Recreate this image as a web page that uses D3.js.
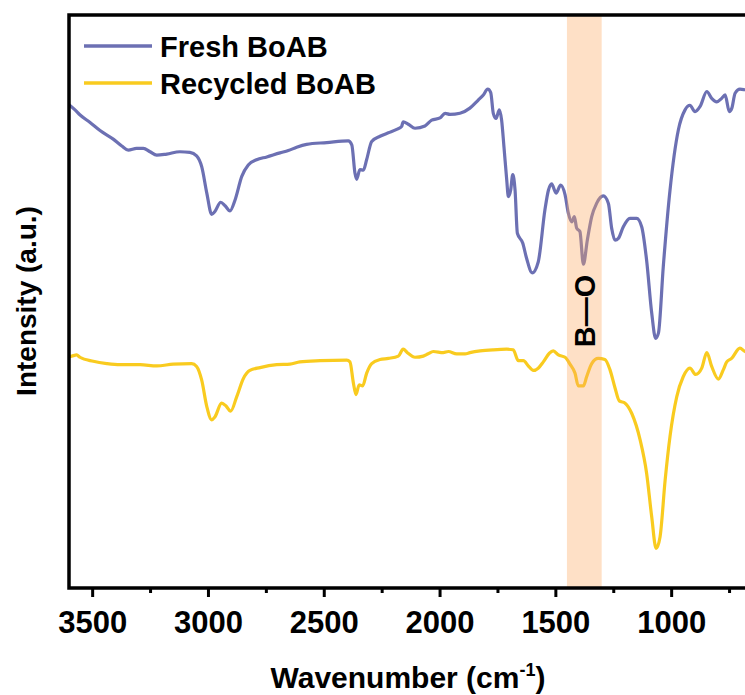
<!DOCTYPE html>
<html>
<head>
<meta charset="utf-8">
<script src="https://cdn.jsdelivr.net/npm/d3@7"></script>
<style>
  html, body { margin: 0; padding: 0; background: #fff; }
  svg { display: block; font-family: "Liberation Sans", Arial, sans-serif; }
</style>
</head>
<body>
<svg id="chart" width="745" height="695"></svg>
<script>
// FTIR spectra (wavenumber in cm^-1, intensity in arbitrary units, offset traces)
const freshWn = [3600,3574,3552,3509,3466,3409,3372,3344,3308,3279,3250,3221,3178,3121,3078,3049,3027,3005,2984,2970,2945,2926,2905,2883,2854,2826,2790,2746,2689,2653,2617,2574,2487,2394,2379,2365,2358,2344,2329,2315,2293,2257,2221,2185,2164,2157,2135,2106,2063,2034,1998,1976,1955,1912,1869,1833,1811,1792,1779,1768,1756,1742,1732,1722,1710,1703,1693,1684,1674,1664,1641,1624,1600,1574,1545,1530,1516,1497,1477,1458,1444,1429,1418,1408,1394,1379,1362,1343,1322,1293,1271,1257,1242,1228,1207,1178,1149,1127,1106,1084,1067,1055,1034,1005,969,940,919,897,875,846,825,803,782,767,749,738,724,703,681,650];
const freshInt = [84.2,83.3,82.4,81.1,79.7,78.2,77.0,76.3,76.6,76.6,76.0,75.4,75.6,76.0,75.9,75.3,73.4,68.8,65.1,65.6,67.2,66.6,65.7,67.6,71.7,73.7,74.6,75.1,75.8,76.2,76.8,77.3,77.6,77.9,77.2,72.2,71.2,72.9,72.8,74.6,77.8,78.7,79.3,79.9,80.4,81.2,80.8,80.1,80.5,81.5,81.9,82.7,82.5,82.7,83.6,85.0,85.9,86.9,86.3,82.7,81.8,83.3,81.5,76.9,71.1,68.2,69.3,72.0,69.3,61.8,60.1,57.4,54.9,56.8,65.9,69.3,70.4,68.8,70.2,68.5,65.3,63.8,64.7,62.7,62.1,56.4,60.6,64.7,67.0,68.3,67.0,62.7,60.6,60.9,62.9,64.4,64.4,62.9,57.1,47.9,43.5,44.4,56.0,69.3,79.8,83.3,84.1,83.0,83.9,86.5,85.3,84.7,85.3,85.9,83.0,83.6,86.2,86.9,86.8,86.6];

const recycledWn = [3600,3588,3567,3553,3495,3437,3380,3293,3221,3150,3070,3049,3027,3005,2984,2970,2941,2922,2902,2876,2847,2819,2775,2703,2646,2603,2516,2401,2387,2372,2361,2347,2332,2315,2293,2257,2221,2178,2157,2139,2106,2070,2049,2027,1984,1962,1926,1890,1869,1825,1768,1710,1682,1660,1638,1617,1595,1574,1552,1526,1509,1487,1458,1437,1415,1401,1379,1365,1343,1315,1286,1264,1242,1224,1199,1170,1134,1106,1084,1065,1048,1026,1005,976,948,919,894,868,846,825,796,775,760,739,703,681,650];
const recycledInt = [40.3,40.4,40.6,40.2,39.5,39.1,38.9,38.9,38.7,39.0,39.1,38.6,36.2,31.6,29.3,29.8,32.2,31.7,30.8,33.3,36.5,37.9,38.4,38.9,39.0,39.4,39.6,39.7,39.4,35.7,33.7,35.4,35.2,37.4,39.1,39.8,40.0,40.4,41.6,41.0,40.2,40.4,40.8,41.2,41.0,41.2,40.8,40.8,41.0,41.3,41.5,41.6,41.5,39.6,39.6,38.7,37.9,38.3,39.4,40.9,41.3,40.6,40.2,39.0,37.4,35.2,35.2,36.8,39.1,40.0,39.8,38.0,34.8,32.6,32.2,30.4,25.8,20.0,12.4,6.9,8.9,18.8,26.4,33.3,36.8,38.3,37.2,38.3,41.0,38.6,36.4,38.0,39.4,40.0,41.8,41.2,41.0];

const seriesNames = ["Fresh BoAB", "Recycled BoAB"];
const seriesColors = ["#6c70b3", "#f9cb1f"];
const majorTicks = [3500, 3000, 2500, 2000, 1500, 1000];
const minorTicks = [3250, 2750, 2250, 1750, 1250, 750];
const bandRange = [1450, 1300];
const bandLabel = "B\u2014O";

const svg = d3.select("#chart");
const W = 745;
const plot = { left: 69, top: 15, bottom: 588 };

const x = d3.scaleLinear().domain([3600, 400]).range([plot.left, plot.left + 3200 * 0.2316]);
const y = d3.scaleLinear().domain([0, 100]).range([plot.bottom, plot.top - 1]);

svg.append("defs").append("clipPath").attr("id", "plotClip")
  .append("rect").attr("x", plot.left).attr("y", plot.top)
  .attr("width", W - plot.left + 10).attr("height", plot.bottom - plot.top);

const series = [
  { name: seriesNames[0], color: seriesColors[0], pts: freshWn.map((w, i) => [w, freshInt[i]]) },
  { name: seriesNames[1], color: seriesColors[1], pts: recycledWn.map((w, i) => [w, recycledInt[i]]) }
];

const line = d3.line()
  .x(d => x(d[0]))
  .y(d => y(d[1]))
  .curve(d3.curveMonotoneX);

const g = svg.append("g").attr("clip-path", "url(#plotClip)");
series.forEach(s => {
  g.append("path")
    .datum(s.pts)
    .attr("fill", "none")
    .attr("stroke", s.color)
    .attr("stroke-width", 3.2)
    .attr("stroke-linejoin", "round")
    .attr("d", line);
});

// translucent highlight band over the B–O region
g.append("rect")
  .attr("x", x(bandRange[0]))
  .attr("width", x(bandRange[1]) - x(bandRange[0]))
  .attr("y", plot.top)
  .attr("height", plot.bottom - plot.top)
  .attr("fill", "#fbaa60")
  .attr("fill-opacity", 0.36);

const bandMid = (x(bandRange[0]) + x(bandRange[1])) / 2;
svg.append("text")
  .attr("transform", `translate(${bandMid + 11},311) rotate(-90)`)
  .attr("text-anchor", "middle")
  .attr("font-size", 29)
  .attr("font-weight", "bold")
  .attr("fill", "#000")
  .text(bandLabel);

// bottom axis: major + minor ticks
const axisG = svg.append("g").attr("transform", `translate(0,${plot.bottom})`);
axisG.call(d3.axisBottom(x).tickValues(majorTicks).tickSize(9).tickPadding(14).tickFormat(d3.format("d")));
axisG.selectAll(".tick line").attr("stroke", "#000").attr("stroke-width", 3);
axisG.selectAll(".tick text")
  .attr("font-size", 31).attr("font-weight", "bold").attr("fill", "#000")
  .attr("font-family", "Liberation Sans, Arial, sans-serif");
axisG.select(".domain").remove();

const minorG = svg.append("g").attr("transform", `translate(0,${plot.bottom})`);
minorG.call(d3.axisBottom(x).tickValues(minorTicks).tickSize(5).tickFormat(""));
minorG.selectAll(".tick line").attr("stroke", "#000").attr("stroke-width", 3);
minorG.select(".domain").remove();

// frame: left, top, bottom
svg.append("path")
  .attr("d", `M${W + 5},${plot.top} H${plot.left} V${plot.bottom} H${W + 5}`)
  .attr("fill", "none")
  .attr("stroke", "#000")
  .attr("stroke-width", 3.5)
  .attr("stroke-linejoin", "miter");

// axis titles
const xt = svg.append("text")
  .attr("x", 408).attr("y", 688)
  .attr("text-anchor", "middle")
  .attr("font-size", 30).attr("font-weight", "bold").attr("fill", "#000");
xt.append("tspan").text("Wavenumber (cm");
xt.append("tspan").attr("font-size", 18).attr("dy", -12).text("-1");
xt.append("tspan").attr("dy", 12).text(")");

svg.append("text")
  .attr("transform", "translate(36,301) rotate(-90)")
  .attr("text-anchor", "middle")
  .attr("font-size", 28).attr("font-weight", "bold").attr("fill", "#000")
  .text("Intensity (a.u.)");

// legend
const legend = svg.append("g");
series.forEach((s, i) => {
  const ly = 46 + i * 37;
  legend.append("line")
    .attr("x1", 84).attr("x2", 152).attr("y1", ly).attr("y2", ly)
    .attr("stroke", s.color).attr("stroke-width", 3.5);
  legend.append("text")
    .attr("x", 160).attr("y", ly + 11)
    .attr("font-size", 29).attr("font-weight", "bold").attr("fill", "#000")
    .text(s.name);
});
</script>
</body>
</html>
